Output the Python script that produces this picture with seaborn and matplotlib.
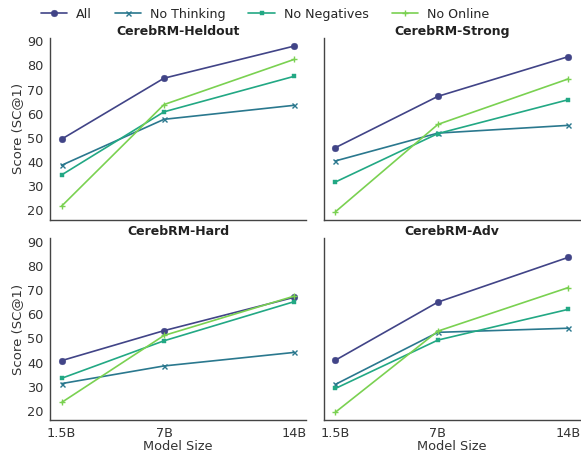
import pandas as pd
import seaborn as sns
import matplotlib.pyplot as plt

model_sizes = [1.5, 7, 14]
size_labels = ["1.5B", "7B", "14B"]
methods = ["All", "No Thinking", "No Negatives", "No Online"]
benchmarks = ["CerebRM-Heldout", "CerebRM-Strong", "CerebRM-Hard", "CerebRM-Adv"]

heldout = {
    "All": [49.5, 74.7, 88.0],
    "No Thinking": [38.7, 57.7, 63.5],
    "No Negatives": [34.7, 60.8, 75.5],
    "No Online": [21.8, 63.8, 82.5],
}
strong = {
    "All": [46.0, 67.2, 83.6],
    "No Thinking": [40.5, 52.0, 55.2],
    "No Negatives": [31.8, 51.8, 65.8],
    "No Online": [19.5, 55.6, 74.4],
}
hard = {
    "All": [40.8, 53.2, 67.0],
    "No Thinking": [31.3, 38.6, 44.2],
    "No Negatives": [33.5, 49.0, 65.2],
    "No Online": [23.5, 51.2, 67.5],
}
adv = {
    "All": [41.0, 65.0, 83.5],
    "No Thinking": [31.0, 52.5, 54.2],
    "No Negatives": [29.3, 49.3, 62.0],
    "No Online": [19.5, 53.0, 71.0],
}
scores = [heldout, strong, hard, adv]

# long-form table for seaborn
rows = []
for bench, table in zip(benchmarks, scores):
    for m in methods:
        for size, val in zip(model_sizes, table[m]):
            rows.append({"Benchmark": bench, "Method": m, "Size": size, "Score": val})
df = pd.DataFrame(rows)

sns.set_style("white")
plt.rcParams["font.family"] = ["DejaVu Sans"]
palette = dict(zip(methods, sns.color_palette("viridis", 4)))
markers = {"All": "o", "No Thinking": "x", "No Negatives": "s", "No Online": "+"}
msizes = {"All": 4.8, "No Thinking": 3.6, "No Negatives": 3.3, "No Online": 5}

fig, axes = plt.subplots(2, 2, figsize=(5.81, 4.55), dpi=100, sharex=True, sharey=True)
fig.subplots_adjust(left=0.086, right=0.998, top=0.917, bottom=0.076, wspace=0.07, hspace=0.1)

for ax, bench in zip(axes.flat, benchmarks):
    sub = df[df["Benchmark"] == bench]
    for m in methods:
        d = sub[sub["Method"] == m]
        thin = m in ("No Thinking", "No Online")
        sns.lineplot(data=d, x="Size", y="Score", color=palette[m], marker=markers[m],
                     markersize=msizes[m], markeredgewidth=1.0 if thin else 0.3,
                     markeredgecolor=palette[m], linewidth=1.2, label=m, ax=ax, legend=False)
    ax.set_title(bench, fontsize=9, fontweight="bold", pad=2, color="#222222")
    ax.set_xticks(model_sizes)
    ax.set_xticklabels(size_labels)
    ax.set_yticks(range(20, 91, 10))
    ax.tick_params(labelsize=9.3, colors="#333333", pad=1)
    ax.set_xlabel("")
    ax.set_ylabel("")
    for s in ["top", "right"]:
        ax.spines[s].set_visible(False)
    for s in ["left", "bottom"]:
        ax.spines[s].set_color("#444444")
        ax.spines[s].set_linewidth(1.0)

for ax in axes[:, 0]:
    ax.set_ylabel("Score (SC@1)", fontsize=9.5, color="#333333", labelpad=2)
for ax in axes[1, :]:
    ax.set_xlabel("Model Size", fontsize=9.3, color="#333333", labelpad=0)

handles, labels = axes[0, 0].get_legend_handles_labels()
fig.legend(handles, labels, loc="upper center", ncol=4, frameon=False, fontsize=9.1,
           bbox_to_anchor=(0.456, 1.008), columnspacing=1.8, handlelength=2.1, handletextpad=0.7)

fig.savefig("out.png", dpi=100)
